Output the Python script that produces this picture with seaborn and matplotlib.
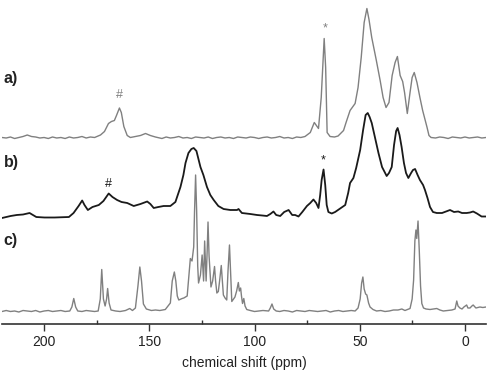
"""
Solid-state 13C NMR spectra, three stacked traces a), b), c).
"""

# %% ---- Requirements and constants
import matplotlib
matplotlib.use('Agg')
import matplotlib.pyplot as plt
import seaborn as sns
from matplotlib.ticker import MultipleLocator

# trace a) : chemical shift (ppm) and intensity (a.u.)
a_ppm = [220, 218, 216, 214, 212, 210, 208, 206, 204, 202, 200, 198, 196, 194, 192, 190,
         188, 186, 184, 182, 180, 178, 176, 173.2, 171.3, 169.4, 168.0, 166.6, 165.6,
         164.2, 163.3, 162.1, 160.5, 159.0, 156.6, 154.2, 151.8, 149.5, 147.1,
         146, 144, 142, 140, 138, 136, 134, 132, 130, 128, 126, 124, 122, 120, 118, 116,
         114, 112, 110, 108, 106, 104, 102, 100, 98, 96, 94, 92, 90, 88, 86, 84, 82, 80,
         78, 76, 73.5, 71.6, 69.6, 68.3, 66.9, 66.2, 65.5, 64.1, 62, 60.3, 57.7, 56.5,
         54.6, 52.2, 50.8, 49.3, 47.9, 46.6, 45.6, 44.3, 42.2, 40.3, 38.9, 37.5, 36.1,
         34.6, 33.2, 32.1, 31.5, 30.8, 29.6, 28.7, 27.4, 26.1, 25.1, 24.1, 22.8, 21.4,
         20.1, 19.0, 18.0, 17.1, 16.1, 14, 12, 10, 8, 6, 4, 2, 0, -2, -4, -6, -8, -10]
a_int = [0, -0.5, 0.5, -1, 0, 1, 2.5, 1, 0.5, -0.5, 0, -1, 0.5, -0.5, 0, -1,
         0.5, -0.5, 0, 1, -0.5, 0.5, 0, 2.5, 6, 14, 16, 17, 22,
         29.5, 25, 11, 2, 0, 1, 2, 4, 2, 0.5,
         0, -1, 0.5, -0.5, 0, 1, -0.5, 0, -1, 0.5, 0, -0.5, 0.5, -1, 0, 0.5,
         -0.5, 0, -1, 0.5, 0, -0.5, 0.5, 0, -1, 0, 0.5, -0.5, 0, 1, -0.5, 0, -1, 0.5,
         0, 1, 5, 15, 9, 40, 99, 70, 5, 1, 0.5, 1.5, 7, 15,
         27, 34, 50, 80, 115, 129, 118, 100, 78, 57, 40, 30, 35,
         62, 75, 81, 72, 62, 56, 45, 24, 45, 60, 65, 55, 40,
         27, 18, 10, 2, 0, -0.5, 0.5, 0, -1, 0.5, 0, -0.5, 0.5, -0.5, 0, 0.5, -0.5, 0]

# trace b)
b_ppm = [220, 215.9, 213, 210, 206.9, 203.7, 199.8, 195, 188.2, 186, 183.6, 181.9, 180.8,
         179.2, 177, 174, 171.8, 169.3, 167.5, 165.3, 163.2, 160.5, 157.4, 154.2, 151,
         149.5, 147.9, 145.7, 143.2, 140, 137.6, 135.2, 133.8, 132.8, 131.4, 130, 128.9,
         127.6, 125.7, 124.3, 122.6, 121, 119.4, 117.2, 114.7, 111.5, 108.3, 107.6, 106,
         102, 98.8, 96.3, 94.1, 92.5, 91, 89.7, 87.8, 85.9, 83.8, 82.1, 80.7, 79.1, 77.3,
         75.1, 73.5, 72, 70.7, 69.6, 68.8, 68.1, 67.2, 66.4, 65.7, 64.9, 63.3, 61.7, 59.3,
         56.9, 55.5, 54.6, 53, 51.7, 49.8, 48.4, 47.2, 46.2, 45.3, 44.3, 42.7, 41.1, 39.4,
         37.2, 36.1, 34.8, 33.7, 32.7, 32, 31.1, 30.1, 29, 28, 26.9, 25.6, 24.7, 23.7,
         22.5, 21.4, 19.9, 19, 17.8, 16.6, 15.2, 13.4, 10.9, 7.1, 5.2, 3.2, 1.4, -0.8,
         -2.4, -3.9, -5.7, -7.9, -10]
b_int = [-3, -1, 0, 0.5, 2, -2, -2.5, -2.5, -2, 2, 9, 14.5, 10,
         5, 8, 10, 14, 21.5, 18, 15, 13, 12, 9, 11, 13.5,
         11, 7, 8, 9, 9, 13, 28, 40, 52, 62, 66, 67,
         64, 48, 40, 28, 20, 15, 9, 6, 5, 5, 6, 2,
         1, 0, -0.5, -1, 1, 3.5, 0, -1, 3, 5, 0, 0, -1.5, 3,
         9, 12, 15.5, 12, 7, 20, 35, 45.5, 30, 10, 3, 1.5, 3, 6.5,
         10, 22, 32, 37, 47, 65, 85, 100, 102, 98, 92, 77, 62, 48,
         39, 42, 48, 70, 84, 87, 80, 68, 52, 42, 37, 42, 45, 46,
         40, 35, 30, 25, 17, 8, 3, 2, 2, 5, 3, 3.5, 2, 2,
         2.5, 3.5, 1.5, -1.5, -1.5]

# trace c)
c_ppm = [220, 218, 216, 214, 212, 210, 208, 206, 204, 202, 200, 198, 196, 194, 192, 190,
         187.8, 186.8, 185.9, 185, 184, 182, 180, 178, 176, 174.3, 173.3, 172.6, 171.8,
         171, 170.3, 169.8, 169.1, 168.2, 166, 163.9, 161.3, 159.3, 158, 156.6, 155.4,
         154.5, 153.7, 152.8, 151.4, 149, 147.1, 145, 142.4, 140, 139.1, 138.1, 137.4,
         136.7, 136, 134.4, 133.6, 132, 131.2, 130.5, 129.7, 128.9, 128.5, 128, 127.5,
         127, 126.6, 125.7, 124.9, 124.2, 123.7, 123, 122.5, 122.1, 121.6, 120.7, 119.9,
         119, 118.5, 117.9, 117.2, 116.6, 115.8, 115.3, 114.8, 114, 113.2, 112.6, 111.9,
         111.4, 110.8, 110, 109.3, 108.5, 107.7, 107.2, 106.6, 106.2, 105.7, 105.1, 104.5,
         103.7, 102, 100, 98, 96, 93.3, 92.5, 91.7, 90.9, 89.7, 88, 86, 84, 82, 80, 78,
         76, 74, 72, 70, 68, 66, 64, 62, 60, 58, 56, 54, 52.2, 50.8, 49.8, 49.1, 48.5,
         47.9, 47.2, 46.6, 45.8, 45.1, 43.7, 42, 40, 38, 36, 34, 31.8, 30, 28.5, 26.1,
         25.1, 24.4, 23.8, 23.3, 22.9, 22.3, 21.7, 21.1, 20.5, 19.7, 18.5, 16.6, 13.4,
         11.9, 10.3, 8.1, 6.2, 4.7, 3.9, 3.3, 2.4, 1.4, 0.5, -0.8, -1.4, -2.4, -3.3, -3.9,
         -5.2, -7.1, -8.5, -10]
c_int = [-0.5, 0.5, -0.5, 0, -1, 0.5, 0, -0.5, 0.5, -1, 0, 0.5, -0.5, 0, 0.5, -0.5,
         0, 4, 12.5, 4, 0, -0.5, 0.5, 0, -0.5, 0, 12, 41.5, 12,
         5, 12, 22.5, 8, 1, 0, -0.5, 0.5, 2.5, 0.5, 3, 25,
         44, 30, 7, 2, 0.5, 1, 0.5, 1.5, 8, 30, 39, 30,
         15, 11, 12.5, 13, 15, 35, 52.5, 50, 64, 100, 136, 100,
         45, 28, 36, 56, 30, 70, 30, 60, 89, 55, 24, 30,
         44.5, 30, 18, 19.5, 30, 45.5, 30, 16, 13, 11, 40, 66,
         40, 9.5, 12, 14, 20, 28.5, 20, 23, 15, 7.5, 12.5, 5,
         1.5, 0.5, -0.5, 0, 0.5, 0, 3, 7, 2, 0, -0.5, 0.5, 0, -1, 0.5, 0,
         -0.5, 0.5, 0, -0.5, 0, 0.5, -1, 0, 0.5, -0.5, 0, 0.5, 0, 3, 12, 28, 34,
         22, 17, 16, 8, 4, 1.5, 0, 0.5, -0.5, 0, 1, 1, 2, 0.5, 2.5,
         12, 31, 70, 81, 72.5, 90, 60, 25, 7.5, 3, 2, 1.5, 2.5,
         1, 0, 0.5, 1, 2, 10, 5, 3, 2, 4, 6, 3, 3, 5, 6,
         3, 4, 3.5, 4]

# %% ---- Plot
sns.set_theme(style='white')
plt.rcParams['font.family'] = ['Liberation Sans', 'DejaVu Sans']

fig = plt.figure(figsize=(4.94, 3.76), dpi=100)
ax = fig.add_axes([2 / 494, 52 / 376, 484 / 494, 324 / 376])

gray = '#808080'
dark = '#1a1a1a'

traces = [(a_ppm, a_int, 186.5, gray, 1.0),
          (b_ppm, b_int, 109, dark, 1.3),
          (c_ppm, c_int, 13, gray, 1.0)]
for ppm, inten, off, col, lw in traces:
    sns.lineplot(x=ppm, y=[v + off for v in inten], ax=ax, color=col,
                 linewidth=lw, sort=False, estimator=None)

ax.set_xlim(220, -10)
ax.set_ylim(0, 324)
ax.set_yticks([])
ax.xaxis.set_major_locator(MultipleLocator(50))
ax.xaxis.set_minor_locator(MultipleLocator(25))
ax.tick_params(axis='x', which='major', direction='out', length=5, width=1,
               color='#333333', labelsize=10, labelcolor='#222222', pad=3, bottom=True)
ax.tick_params(axis='x', which='minor', direction='in', length=3, width=1,
               color='#333333', bottom=True)
for s in ['left', 'right', 'top']:
    ax.spines[s].set_visible(False)
ax.spines['bottom'].set_color('#333333')
ax.spines['bottom'].set_linewidth(1.2)
ax.set_xlabel('chemical shift (ppm)', fontsize=10, color='#222222', labelpad=5)

for lbl, yy in [('a)', 246), ('b)', 162), ('c)', 84)]:
    ax.text(219.3, yy, lbl, fontsize=11.5, fontweight='bold', color='#222222',
            ha='left', va='center')
ax.text(164.4, 229, '#', fontsize=9, color=gray, ha='center', va='center')
ax.text(66.4, 296, '*', fontsize=9, color=gray, ha='center', va='center')
ax.text(169.4, 140, '#', fontsize=9, color=dark, ha='center', va='center')
ax.text(67.2, 164, '*', fontsize=9, color=dark, ha='center', va='center')

fig.savefig('out.png', dpi=100)
